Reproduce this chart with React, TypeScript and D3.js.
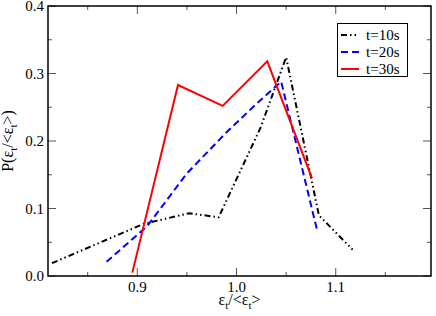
import { useEffect, useRef } from "react";
import * as d3 from "d3";

// t=10s
const t10X = [0.814, 0.906, 0.952, 0.982, 1.024, 1.05, 1.083, 1.117];
const t10Y = [0.019, 0.077, 0.093, 0.087, 0.219, 0.324, 0.09, 0.039];
// t=20s
const t20X = [0.869, 0.91, 0.95, 0.99, 1.02, 1.045, 1.081];
const t20Y = [0.021, 0.074, 0.152, 0.213, 0.255, 0.288, 0.069];
// t=30s
const t30X = [0.895, 0.941, 0.986, 1.031, 1.076];
const t30Y = [0.005, 0.283, 0.252, 0.318, 0.145];

const seriesNames = ["t=10s", "t=20s", "t=30s"];
const xMajor = [0.9, 1.0, 1.1];
const xMinor = [0.85, 0.95, 1.05, 1.15];
const yMajor = [0, 0.1, 0.2, 0.3, 0.4];
const yMinor = [0.05, 0.15, 0.25, 0.35];

export default function App() {
  const ref = useRef<SVGSVGElement>(null);

  useEffect(() => {
    if (!ref.current) return;
    const W = 436;
    const H = 316;
    const L = 48, R = 431, T = 6, B = 276;
    const font = "Liberation Serif, Times New Roman, DejaVu Serif, serif";

    const svg = d3.select(ref.current);
    svg.selectAll("*").remove();
    svg.attr("width", W).attr("height", H).attr("font-family", font);
    svg.append("rect").attr("width", W).attr("height", H).attr("fill", "#fff");

    const x = d3.scaleLinear().domain([0.81, 1.196]).range([L, R]);
    const y = d3.scaleLinear().domain([0, 0.4]).range([B, T]);

    // ticks, mirrored inside on all four sides
    const tg = svg.append("g").attr("stroke", "#555").attr("stroke-width", 1);
    const tick = (vals: number[], len: number) => {
      vals.forEach((v) => {
        const px = x(v);
        tg.append("line").attr("x1", px).attr("x2", px).attr("y1", B).attr("y2", B - len);
        tg.append("line").attr("x1", px).attr("x2", px).attr("y1", T).attr("y2", T + len);
      });
    };
    const ytick = (vals: number[], len: number) => {
      vals.forEach((v) => {
        const py = y(v);
        tg.append("line").attr("x1", L).attr("x2", L + len).attr("y1", py).attr("y2", py);
        tg.append("line").attr("x1", R).attr("x2", R - len).attr("y1", py).attr("y2", py);
      });
    };
    tick(xMajor, 8);
    tick(xMinor, 4);
    ytick(yMajor, 8);
    ytick(yMinor, 4);

    // tick labels
    svg
      .append("g")
      .selectAll("text")
      .data(xMajor)
      .enter()
      .append("text")
      .attr("x", (d) => x(d))
      .attr("y", 292)
      .attr("text-anchor", "middle")
      .attr("font-size", 15)
      .text((d) => d.toFixed(1));

    svg
      .append("g")
      .selectAll("text")
      .data(yMajor)
      .enter()
      .append("text")
      .attr("x", 44)
      .attr("y", (d) => y(d) + 5)
      .attr("text-anchor", "end")
      .attr("font-size", 15)
      .text((d) => d.toFixed(1));

    // series
    const line = d3
      .line<[number, number]>()
      .x((d) => x(d[0]))
      .y((d) => y(d[1]));
    const series = [
      { xs: t10X, ys: t10Y, color: "#000000", dash: "6,3,1.5,3,1.5,3" },
      { xs: t20X, ys: t20Y, color: "#0000ff", dash: "7,4" },
      { xs: t30X, ys: t30Y, color: "#ff0000", dash: null },
    ];
    series.forEach((s) => {
      const pts = s.xs.map((v, i) => [v, s.ys[i]] as [number, number]);
      svg
        .append("path")
        .attr("d", line(pts))
        .attr("fill", "none")
        .attr("stroke", s.color)
        .attr("stroke-width", 2)
        .attr("stroke-dasharray", s.dash);
    });

    // frame
    svg
      .append("rect")
      .attr("x", L)
      .attr("y", T)
      .attr("width", R - L)
      .attr("height", B - T)
      .attr("fill", "none")
      .attr("stroke", "#000")
      .attr("stroke-width", 1.5);

    // legend
    const lg = svg.append("g");
    lg.append("rect")
      .attr("x", 337.5)
      .attr("y", 23.5)
      .attr("width", 70)
      .attr("height", 53)
      .attr("fill", "#fff")
      .attr("stroke", "#000")
      .attr("stroke-width", 1);
    series.forEach((s, i) => {
      const yy = 35 + i * 17;
      lg.append("line")
        .attr("x1", 341)
        .attr("x2", 359)
        .attr("y1", yy)
        .attr("y2", yy)
        .attr("stroke", s.color)
        .attr("stroke-width", 2)
        .attr("stroke-dasharray", s.dash);
      lg.append("text")
        .attr("x", 366)
        .attr("y", yy + 5)
        .attr("font-size", 15)
        .text(seriesNames[i]);
    });

    // axis labels
    const xl = svg
      .append("text")
      .attr("x", (L + R) / 2)
      .attr("y", 305)
      .attr("text-anchor", "middle")
      .attr("font-size", 16);
    xl.append("tspan").text("ε");
    xl.append("tspan").attr("dy", 4).attr("font-size", 11).text("t");
    xl.append("tspan").attr("dy", -4).text("/<ε");
    xl.append("tspan").attr("dy", 4).attr("font-size", 11).text("t");
    xl.append("tspan").attr("dy", -4).text(">");

    const yl = svg
      .append("text")
      .attr("transform", `translate(13,${(T + B) / 2}) rotate(-90)`)
      .attr("text-anchor", "middle")
      .attr("font-size", 16);
    yl.append("tspan").text("P(ε");
    yl.append("tspan").attr("dy", 4).attr("font-size", 11).text("t");
    yl.append("tspan").attr("dy", -4).text("/<ε");
    yl.append("tspan").attr("dy", 4).attr("font-size", 11).text("t");
    yl.append("tspan").attr("dy", -4).text(">)");
  }, []);

  return (
    <svg
      ref={ref}
      style={{ position: "absolute", left: 0, top: 0, display: "block" }}
    />
  );
}
